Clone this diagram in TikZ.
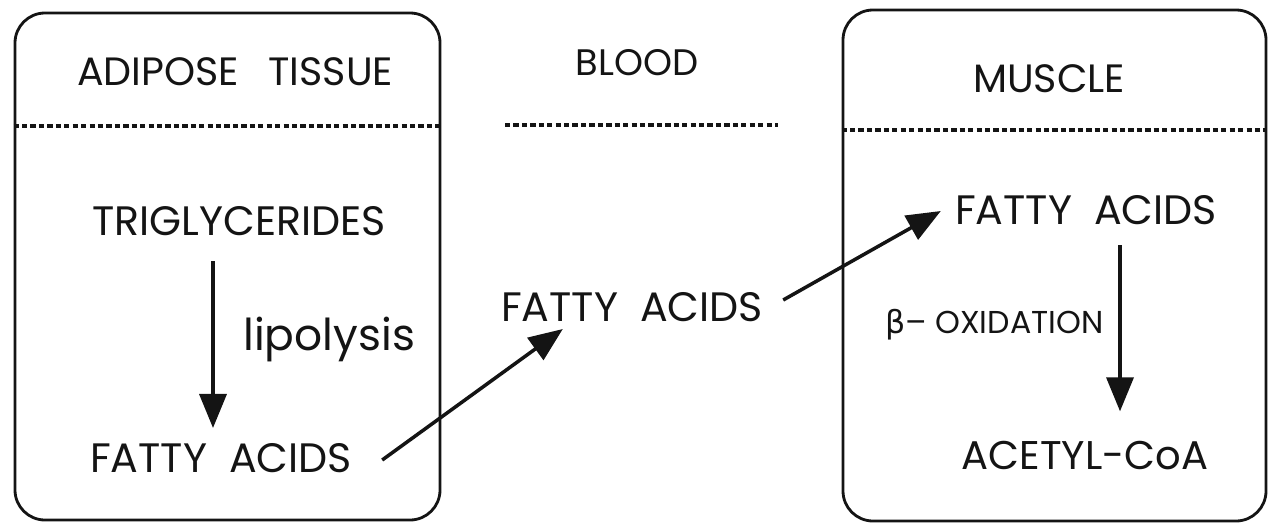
\documentclass[tikz,border=0pt]{standalone}
\usepackage{fontspec}
\setmainfont{Poppins}
\newfontfamily\greekfont{DejaVu Sans}
\usepackage{tikz}
\usetikzlibrary{arrows.meta, positioning, calc}
\definecolor{inkdark}{RGB}{20,20,20}
\tikzset{
  organ/.style={rectangle, draw=inkdark, line width=1.6pt,
    rounded corners=0.6cm, inner sep=0pt},
  divider/.style={inkdark, line width=1.8pt, dash pattern=on 3pt off 1.8pt},
  label/.style={inner sep=0pt, text=inkdark, font=\fontsize{23.4}{26}\selectfont},
  header/.style={label, font=\fontsize{22.5}{25}\selectfont},
  small/.style={label, font=\fontsize{18}{20}\selectfont},
  arrow/.style={-{Triangle[length=0.68cm, width=0.54cm]}, line width=2pt, color=inkdark}
}

\begin{document}
\begin{tikzpicture}[x=0.2mm, y=-0.2mm]
  \useasboundingbox (0,0) rectangle (1268,526);
  % compartments
  \node[organ, minimum width=8.5cm, minimum height=10.14cm] (adipose) at (227.5,266.5) {};
  \node[organ, minimum width=8.46cm, minimum height=10.22cm] (muscle) at (1054.5,265.5) {};
  \draw[divider] (adipose.west |- 0,126) -- (adipose.east |- 0,126);
  \draw[divider] (muscle.west |- 0,130) -- (muscle.east |- 0,130);
  \draw[divider] (505,125) -- (778,125);
  % headers
  \node[header] (hadip) at (235,72) {ADIPOSE\hspace{0.75em}TISSUE};
  \node[header, font=\fontsize{21}{24}\selectfont] (hblood) at (637,63) {BLOOD};
  \node[header] (hmus) at (1049,79) {MUSCLE};
  % metabolites
  \node[label] (tg) at (239,221) {TRIGLYCERIDES};
  \node[label] (fa1) at (221,458) {FATTY\ \ ACIDS};
  \node[label] (fa2) at (632,307) {FATTY\ \ ACIDS};
  \node[label] (fa3) at (1086,210) {FATTY\ \ ACIDS};
  \node[label, font=\fontsize{22.8}{25}\selectfont] (acoa) at (1085,456) {ACETYL-CoA};
  \node[label, anchor=base west, font=\fontsize{25}{28}\selectfont] (lipo) at (243,350) {lipolysis};
  \node[small, anchor=base west] (boxid) at (885,333) {{\greekfont β}– OXIDATION};
  % fluxes
  \draw[arrow] ($(tg.south)+(-26,25)$) -- ($(fa1.north)+(-8,-15)$);
  \draw[arrow] ($(fa1.east)+(30,2)$) -- ($(fa2.south west)+(62,7)$);
  \draw[arrow] ($(fa2.east)+(20,-7)$) -- ($(fa3.west)+(-14,1)$);
  \draw[arrow] ($(fa3.south)+(34,20)$) -- ($(acoa.north)+(35,-30)$);
\end{tikzpicture}
\end{document}
